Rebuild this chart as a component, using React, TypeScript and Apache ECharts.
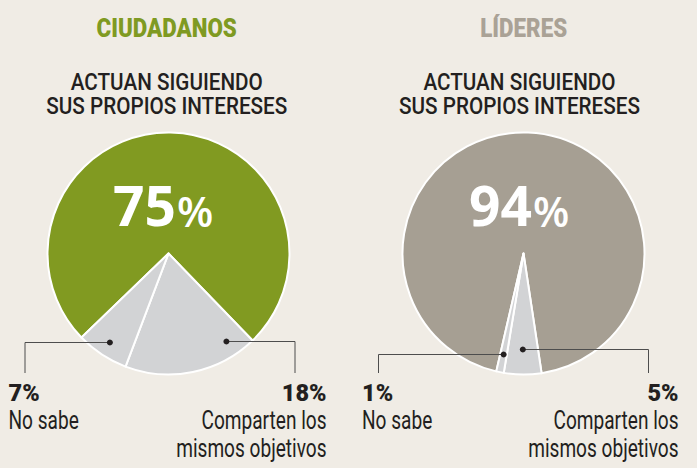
import React, { useEffect, useRef } from "react";
import * as echarts from "echarts";

// ---- data ----
const groupTitles = ["CIUDADANOS", "LÍDERES"];
const subtitleLines = ["ACTUAN SIGUIENDO", "SUS PROPIOS INTERESES"];
const sliceNames = ["Actuan siguiendo sus propios intereses", "Comparten los mismos objetivos", "No sabe"];
const ciudadanosValues = [75, 18, 7];
const lideresValues = [94, 5, 1];
const noSabeLines = ["No sabe"];
const compartenLines = ["Comparten los", "mismos objetivos"];

// ---- layout / style ----
const W = 697;
const H = 468;
const BG = "#f0ece5";
const GRAY = "#d2d3d5";
const TEXT = "#231f20";
const LINE = "#4d4d4d";
const COND = "Roboto, 'Noto Sans', sans-serif";
const BIG = "'Open Sans', 'DejaVu Sans', sans-serif";

type Callout = { idx: number; t: number; rf: number; elbowX: number; side: "left" | "right"; textX: number; lines: string[] };
type PieCfg = {
  values: number[];
  cx: number;
  cy: number;
  r: number;
  start: number;
  main: string;
  titleColor: string;
  titleX: number;
  subX: number;
  bigSplitX: number;
  callouts: Callout[];
};

const PIES: PieCfg[] = [
  {
    values: ciudadanosValues,
    cx: 168.5,
    cy: 253.5,
    r: 121,
    start: 224,
    main: "#819a21",
    titleColor: "#7f9a22",
    titleX: 166.7,
    subX: 166.8,
    bigSplitX: 176,
    callouts: [
      { idx: 2, t: 0.5, rf: 0.88, elbowX: 25, side: "left", textX: 8.5, lines: noSabeLines },
      { idx: 1, t: 0.164, rf: 0.87, elbowX: 295, side: "right", textX: 326.5, lines: compartenLines },
    ],
  },
  {
    values: lideresValues,
    cx: 523.5,
    cy: 253.5,
    r: 121,
    start: 257,
    main: "#a69f93",
    titleColor: "#aaa296",
    titleX: 523.7,
    subX: 519.5,
    bigSplitX: 532,
    callouts: [
      { idx: 2, t: 0.5, rf: 0.845, elbowX: 378.5, side: "left", textX: 362, lines: noSabeLines },
      { idx: 1, t: 0.5, rf: 0.79, elbowX: 648.5, side: "right", textX: 678.5, lines: compartenLines },
    ],
  },
];

function slicePoint(p: PieCfg, idx: number, t: number, rf: number) {
  const total = p.values.reduce((a, b) => a + b, 0);
  let cum = 0;
  for (let i = 0; i < idx; i++) cum += p.values[i];
  const a0 = p.start - (360 * cum) / total;
  const a1 = a0 - (360 * p.values[idx]) / total;
  const ang = ((a0 + t * (a1 - a0)) * Math.PI) / 180;
  return [p.cx + rf * p.r * Math.cos(ang), p.cy - rf * p.r * Math.sin(ang)];
}

function txt(x: number, y: number, text: string, o: any) {
  return {
    type: "text",
    x,
    y,
    scaleX: o.scaleX ?? 1,
    z: 100,
    silent: true,
    style: {
      text,
      fill: o.fill ?? TEXT,
      fontSize: o.fontSize,
      fontFamily: o.fontFamily ?? COND,
      fontWeight: o.fontWeight ?? "normal",
      align: o.align ?? "center",
      textAlign: o.align ?? "center",
      verticalAlign: "middle",
      textVerticalAlign: "middle",
    },
  };
}

function buildOption() {
  const series: any[] = [];
  const graphic: any[] = [];

  PIES.forEach((p, pi) => {
    series.push({
      type: "pie",
      center: [p.cx, p.cy],
      radius: p.r,
      startAngle: p.start,
      clockwise: true,
      silent: true,
      label: { show: false },
      labelLine: { show: false },
      emphasis: { disabled: true },
      itemStyle: { borderColor: "#ffffff", borderWidth: 2 },
      data: p.values.map((v, i) => ({
        name: sliceNames[i],
        value: v,
        itemStyle: { color: i === 0 ? p.main : GRAY },
      })),
    });

    // titles
    graphic.push(
      txt(p.titleX, 28.5, groupTitles[pi], { fontSize: 26, fontWeight: 900, fill: p.titleColor, scaleX: 0.86 })
    );
    subtitleLines.forEach((s, k) => {
      graphic.push(txt(p.subX, 81.5 + 24.5 * k, s, { fontSize: 23.5, fontWeight: 500, scaleX: 0.88 }));
    });

    // big percentage
    graphic.push(
      txt(p.bigSplitX, 204.8, String(p.values[0]), {
        fontSize: 55,
        fontWeight: "bold",
        fontFamily: BIG,
        fill: "#ffffff",
        align: "right",
      })
    );
    graphic.push(
      txt(p.bigSplitX + 1, 210.2, "%", {
        fontSize: 42,
        fontWeight: 600,
        fontFamily: BIG,
        fill: "#ffffff",
        align: "left",
      })
    );

    // callouts
    p.callouts.forEach((c) => {
      const [dx, dy] = slicePoint(p, c.idx, c.t, c.rf);
      const yl = Math.round(dy) + 0.5;
      graphic.push({
        type: "polyline",
        z: 99,
        silent: true,
        shape: { points: [[dx, yl], [c.elbowX, yl], [c.elbowX, 373]] },
        style: { stroke: LINE, lineWidth: 1, fill: null },
      });
      graphic.push({
        type: "circle",
        z: 100,
        silent: true,
        shape: { cx: dx, cy: yl, r: 3 },
        style: { fill: TEXT },
      });
      graphic.push(
        txt(c.textX, 393, `${p.values[c.idx]}%`, { fontSize: 24, fontWeight: 900, align: c.side, scaleX: 0.98 })
      );
      c.lines.forEach((ln, k) => {
        graphic.push(txt(c.textX, 420 + 28 * k, ln, { fontSize: 26.5, scaleX: 0.72, align: c.side }));
      });
    });
  });

  return {
    animation: false,
    backgroundColor: BG,
    series,
    graphic: { elements: graphic },
  };
}

export default function App() {
  const ref = useRef<HTMLDivElement>(null);
  useEffect(() => {
    if (!ref.current) return;
    const chart = echarts.init(ref.current, undefined, { renderer: "svg" });
    chart.setOption(buildOption() as any);
    return () => chart.dispose();
  }, []);
  return (
    <div style={{ position: "fixed", left: 0, top: 0, width: W, height: H, background: BG }}>
      <div ref={ref} style={{ width: W, height: H }} />
    </div>
  );
}
